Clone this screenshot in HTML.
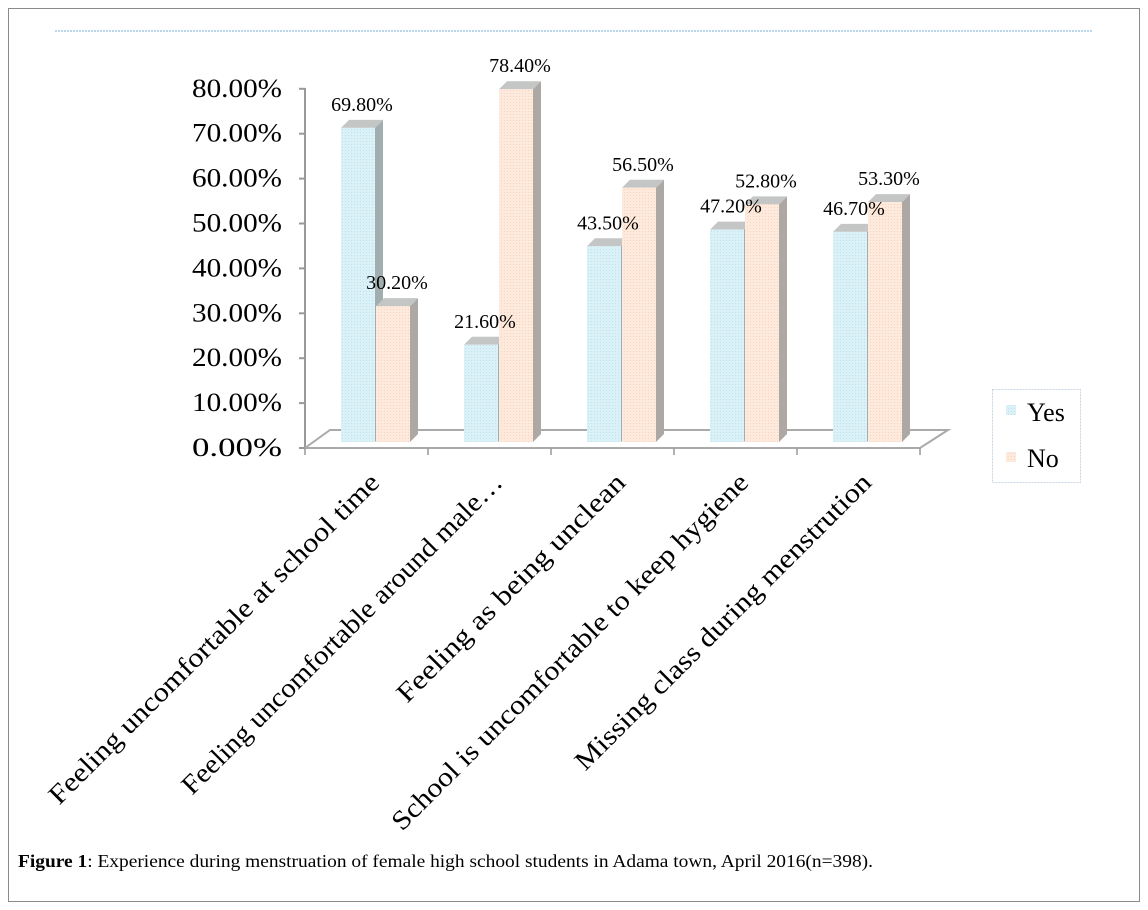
<!DOCTYPE html>
<html><head><meta charset="utf-8"><style>
body{margin:0;background:#fff;}
svg{display:block;font-family:"Liberation Serif",serif;}
</style></head><body>
<svg width="1148" height="910" viewBox="0 0 1148 910">
<defs>
<pattern id="pyes" width="3" height="3" patternUnits="userSpaceOnUse"><rect width="3" height="3" fill="#dbf1f8"/><rect width="1" height="1" fill="#bfe2ee"/></pattern>
<pattern id="pno" width="3" height="3" patternUnits="userSpaceOnUse"><rect width="3" height="3" fill="#feeadc"/><rect width="1" height="1" fill="#f8d4bc"/></pattern>
</defs>
<rect x="8.5" y="8.5" width="1131" height="893" fill="#fff" stroke="#8a8a8a"/>
<line x1="55" y1="31" x2="1093" y2="31" stroke="#b9d6ea" stroke-width="2" stroke-dasharray="2,1"/>
<g id="chart"></g>
<g>
<rect x="992.5" y="389.5" width="88" height="93" fill="#fff" stroke="#c8d4e6" stroke-dasharray="2,1"/>
<rect x="1006" y="405" width="10" height="10" fill="url(#pyes)"/>
<text x="1027" y="421" font-size="26">Yes</text>
<rect x="1006" y="452" width="10" height="10" fill="url(#pno)"/>
<text x="1027" y="467" font-size="26">No</text>
</g>
<text x="18" y="867" font-size="18" textLength="855" lengthAdjust="spacingAndGlyphs"><tspan font-weight="bold">Figure 1</tspan>: Experience during menstruation of female high school students in Adama town, April 2016(n=398).</text>
</svg>
<script>
const categories=["Feeling uncomfortable at school time","Feeling uncomfortable around male…","Feeling as being unclean","School is uncomfortable to keep hygiene","Missing class during menstrution"];
const yesValues=[69.8,21.6,43.5,47.2,46.7];
const noValues=[30.2,78.4,56.5,52.8,53.3];
const yTicks=[0,10,20,30,40,50,60,70,80];
const labelLengths=[455,441,311,492,407];
const NS="http://www.w3.org/2000/svg";
const g=document.getElementById('chart');
function mk(t,a,p){const e=document.createElementNS(NS,t);for(const k in a)e.setAttribute(k,a[k]);(p||g).appendChild(e);return e;}
const base=442,scale=4.5;
function yv(v){return base-v*scale;}
function axY(v){return 448-v*4.49;}
const x0=305,step=123;
let ax=mk('line',{x1:x0,y1:88,x2:x0,y2:448,stroke:'#999','stroke-width':2});

yTicks.forEach(t=>{
 mk('line',{x1:x0-6,y1:axY(t),x2:x0,y2:axY(t),stroke:'#999','stroke-width':2});
 const tx=mk('text',{x:282,y:axY(t)+8,'text-anchor':'end','font-size':26,textLength:90,lengthAdjust:'spacingAndGlyphs'});
 tx.textContent=t.toFixed(2)+'%';
 
});
let fl=mk('polyline',{points:`${x0},448 ${x0+25},430 948,430 920,448 ${x0},448`,fill:'none',stroke:'#aaa','stroke-width':2});

for(let i=0;i<=categories.length;i++){mk('line',{x1:x0+i*step,y1:448,x2:x0+i*step,y2:455,stroke:'#999','stroke-width':1.5});}
const labels=[];
function bar(x,v,fill,side,name){
 const top=yv(v),w=34,d=8;
 const grp=mk('g',{});
 
 mk('polygon',{points:`${x+w},${top} ${x+w+d},${top-d} ${x+w+d},${base-d} ${x+w},${base}`,fill:side},grp);
 mk('polygon',{points:`${x},${top} ${x+d},${top-d} ${x+w+d},${top-d} ${x+w},${top}`,fill:'#c4c6c6'},grp);
 mk('rect',{x:x,y:top,width:w,height:base-top,fill:fill},grp);
 labels.push([x+w/2+4,top-17,v]);
}
categories.forEach((c,i)=>{
 const cx=x0+step*i+70;
 bar(cx-34,yesValues[i],'url(#pyes)','#a0aeb0','bar-yes-'+(i+1));
 bar(cx+1,noValues[i],'url(#pno)','#aea8a4','bar-no-'+(i+1));
 const ex=cx+6,ey=484;
 const t=mk('text',{x:ex,y:ey,'text-anchor':'end','font-size':27,transform:`rotate(-45 ${ex} ${ey})`,textLength:labelLengths[i],lengthAdjust:'spacingAndGlyphs'});
 t.textContent=c;
 
});
labels.forEach(l=>{
 const t=mk('text',{x:l[0],y:l[1],'text-anchor':'middle','font-size':20});
 t.textContent=l[2].toFixed(2)+'%';
 
});
</script>
</body></html>
